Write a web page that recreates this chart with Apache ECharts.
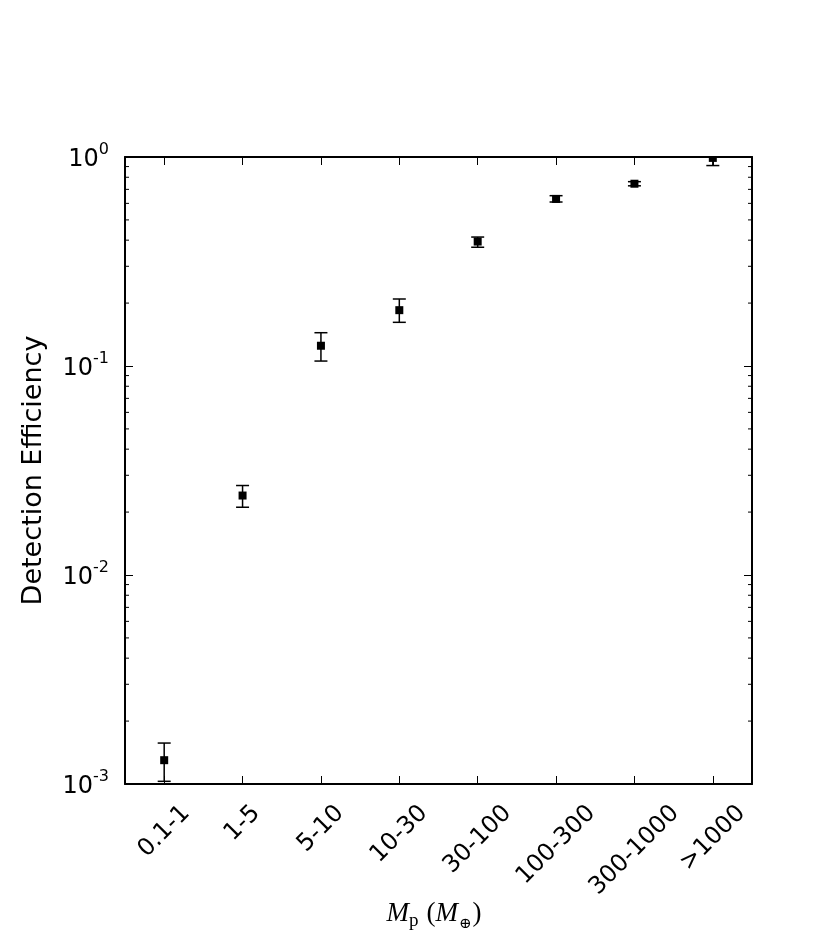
<!DOCTYPE html>
<html>
<head>
<meta charset="utf-8">
<script src="https://cdn.jsdelivr.net/npm/echarts@6/dist/echarts.min.js"></script>
<style>
  html, body { margin: 0; background: #fff; }
  #chart { width: 830px; height: 942px; }
</style>
</head>
<body>
<div id="chart"></div>
<script>
// 质量分段
const categories = ['0.1-1', '1-5', '5-10', '10-30', '30-100', '100-300', '300-1000', '>1000'];
// 探测效率及误差范围
const efficiency = [0.0013, 0.024, 0.125, 0.185, 0.394, 0.63, 0.745, 0.99];
const errLow = [0.00103, 0.0211, 0.1056, 0.1618, 0.370, 0.609, 0.728, 0.91];
const errHigh = [0.00157, 0.0268, 0.1443, 0.2092, 0.414, 0.653, 0.762, 1.0];
// 纵轴刻度（10 的幂）
const yTickExponents = [-3, -2, -1, 0];
const minorMantissas = [2, 3, 4, 5, 6, 7, 8, 9];

const FONT = 'DejaVu Sans';
const FS = 24;
const chart = echarts.init(document.getElementById('chart'));

// 对数轴的次刻度位置
const minorValues = [];
for (let k = yTickExponents[0]; k < yTickExponents[yTickExponents.length - 1]; k++) {
  minorMantissas.forEach(m => minorValues.push(m * Math.pow(10, k)));
}

const axisLine = { show: true, lineStyle: { color: '#000', width: 2 } };
const tickStyle = { show: true, inside: true, length: 8, lineStyle: { color: '#000', width: 1 } };

chart.setOption({
  animation: false,
  grid: { left: 125, right: 78, top: 157, bottom: 158 },
  xAxis: [
    {
      type: 'category',
      data: categories,
      boundaryGap: true,
      axisLine,
      axisTick: Object.assign({ alignWithLabel: true, interval: 0 }, tickStyle),
      axisLabel: { show: false, interval: 0 }
    },
    {
      type: 'category',
      data: categories,
      position: 'top',
      boundaryGap: true,
      axisLine,
      axisTick: Object.assign({ alignWithLabel: true, interval: 0 }, tickStyle),
      axisLabel: { show: false, interval: 0 }
    }
  ],
  yAxis: [
    {
      type: 'log',
      logBase: 10,
      min: 0.001,
      max: 1,
      axisLine,
      axisTick: tickStyle,
      splitLine: { show: false },
      axisLabel: {
        margin: 16,
        formatter: v => {
          const e = Math.round(Math.log10(v));
          return yTickExponents.includes(e) ? '{b|10}{s|' + e + '}' : '';
        },
        rich: {
          b: { fontFamily: FONT, fontSize: FS, lineHeight: 30, padding: [5, 0, 0, 0], verticalAlign: 'bottom', color: '#000' },
          s: { fontFamily: FONT, fontSize: 16, lineHeight: 16, verticalAlign: 'top', color: '#000' }
        }
      },
      name: 'Detection Efficiency',
      nameLocation: 'middle',
      nameGap: 78,
      nameTextStyle: { fontFamily: FONT, fontSize: 27, color: '#000' }
    },
    {
      type: 'log',
      logBase: 10,
      min: 0.001,
      max: 1,
      position: 'right',
      axisLine,
      axisTick: tickStyle,
      splitLine: { show: false },
      axisLabel: { show: false }
    }
  ],
  series: [
    {
      // 次刻度
      type: 'custom',
      silent: true,
      data: minorValues.map(v => [0, v]),
      encode: { x: 0, y: 1 },
      renderItem: (params, api) => {
        const y = api.coord([0, api.value(1)])[1];
        const cs = params.coordSys;
        const style = { stroke: '#000', lineWidth: 1 };
        return {
          type: 'group',
          children: [
            { type: 'line', shape: { x1: cs.x, y1: y, x2: cs.x + 4, y2: y }, style },
            { type: 'line', shape: { x1: cs.x + cs.width - 4, y1: y, x2: cs.x + cs.width, y2: y }, style }
          ]
        };
      }
    },
    {
      // 误差棒 + 方形数据点（裁剪到绘图区内）
      type: 'custom',
      silent: true,
      clip: true,
      data: categories.map((c, i) => [i, efficiency[i], errLow[i], errHigh[i]]),
      encode: { x: 0, y: [1, 2, 3] },
      renderItem: (params, api) => {
        const pt = api.coord([api.value(0), api.value(1)]);
        const lo = api.coord([api.value(0), api.value(2)]);
        const hi = api.coord([api.value(0), api.value(3)]);
        const x = pt[0];
        const cap = 6.5;
        const style = { stroke: '#000', lineWidth: 1.5 };
        return {
          type: 'group',
          children: [
            { type: 'line', shape: { x1: x, y1: lo[1], x2: x, y2: hi[1] }, style },
            { type: 'line', shape: { x1: x - cap, y1: lo[1], x2: x + cap, y2: lo[1] }, style },
            { type: 'line', shape: { x1: x - cap, y1: hi[1], x2: x + cap, y2: hi[1] }, style },
            { type: 'rect', shape: { x: x - 4, y: pt[1] - 4, width: 8, height: 8 }, style: { fill: '#000' } }
          ]
        };
      }
    }
  ]
});

// 横轴标签：旋转 45°，外框中心对准刻度（仿 matplotlib）
const ctx = document.createElement('canvas').getContext('2d');
ctx.font = FS + 'px "' + FONT + '"';
const axisY = chart.convertToPixel({ yAxisIndex: 0 }, 0.001);
const graphics = categories.map((c, i) => {
  const x = chart.convertToPixel({ xAxisIndex: 0 }, i);
  const w = ctx.measureText(c).width;
  const half = (w + FS) / (2 * Math.SQRT2);
  return {
    type: 'text',
    x: x,
    y: axisY + 17 + half,
    rotation: Math.PI / 4,
    silent: true,
    style: { text: c, fontFamily: FONT, fontSize: FS, fill: '#000', align: 'center', verticalAlign: 'middle' }
  };
});

// 横轴标题 M_p (M_⊕)，逐段排版
const titlePieces = [
  { text: 'M', family: 'Liberation Serif', size: 27, style: 'italic', dy: 0, gap: 0 },
  { text: 'p', family: 'Liberation Serif', size: 19, style: 'normal', dy: 7, gap: 0 },
  { text: '(', family: 'Liberation Serif', size: 27, style: 'normal', dy: 0, gap: 8 },
  { text: 'M', family: 'Liberation Serif', size: 27, style: 'italic', dy: 0, gap: 0 },
  { text: '⊕', family: 'DejaVu Serif', size: 15, style: 'normal', dy: 10, gap: 1 },
  { text: ')', family: 'Liberation Serif', size: 27, style: 'normal', dy: 0, gap: 1 }
];
const widths = titlePieces.map(p => {
  ctx.font = p.style + ' ' + p.size + 'px "' + p.family + '"';
  return ctx.measureText(p.text).width;
});
const total = widths.reduce((a, b) => a + b, 0) + titlePieces.reduce((a, p) => a + p.gap, 0);
let cx = 434 - total / 2;
titlePieces.forEach((p, i) => {
  cx += p.gap;
  graphics.push({
    type: 'text',
    x: cx,
    y: 914 + p.dy,
    silent: true,
    style: {
      text: p.text, fontFamily: p.family, fontSize: p.size, fontStyle: p.style,
      fill: '#000', align: 'left', verticalAlign: 'middle'
    }
  });
  cx += widths[i];
});
chart.setOption({ graphic: graphics });
</script>
</body>
</html>
